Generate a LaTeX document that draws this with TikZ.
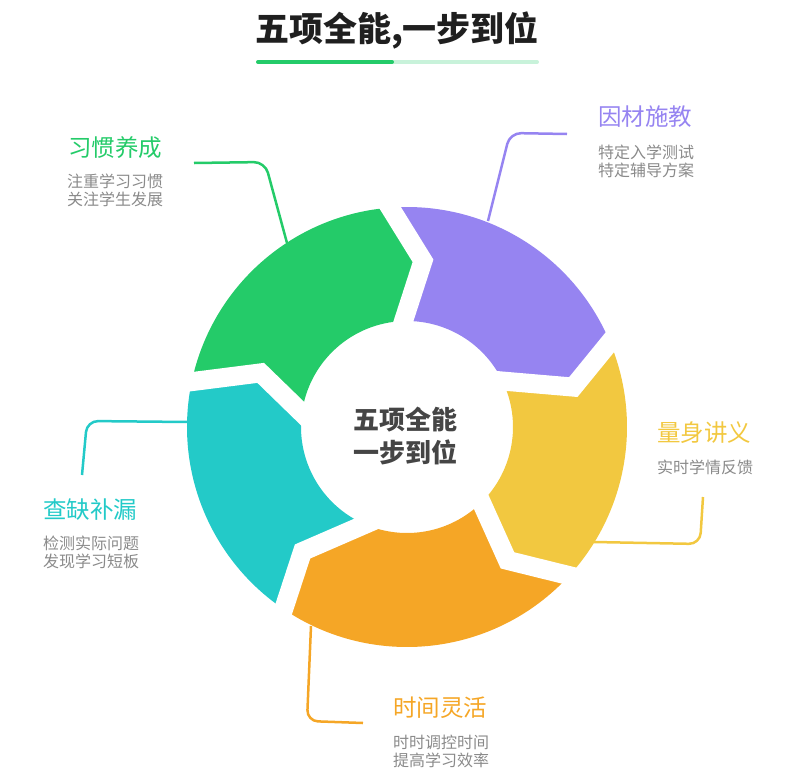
\documentclass[tikz,border=0pt]{standalone}
\usepackage{fontspec}
\setmainfont{Noto Sans CJK SC}
\usetikzlibrary{calc,positioning}
\definecolor{cgreen}{HTML}{24CB69}
\definecolor{cpurple}{HTML}{9684F1}
\definecolor{cyellow}{HTML}{F2C840}
\definecolor{corange}{HTML}{F5A626}
\definecolor{ccyan}{HTML}{23CAC8}
\definecolor{cgray}{HTML}{8A8A8A}
\definecolor{cdark}{HTML}{1F1F1F}
\definecolor{ccore}{HTML}{454545}

\begin{document}
\begin{tikzpicture}[x=1pt, y=-1pt,
    ttl/.style={anchor=west, inner sep=0pt, font=\fontsize{23.5}{26}\selectfont},
    sub/.style={anchor=west, inner sep=0pt, align=left, text=cgray,
                font=\fontsize{16}{18}\selectfont},
    lead/.style={line width=2.5pt, rounded corners=11pt},
    gap/.style={white, line width=19pt, line join=miter}]
\useasboundingbox (0,0) rectangle (801,774);

% title + bar
\node[inner sep=0pt, text=cdark, font=\fontsize{34}{40}\selectfont\bfseries] (head) at (397,30) {五项全能,一步到位};
\coordinate (barL) at (258,62);
\coordinate (barM) at (392,62);
\coordinate (barR) at (537,62);
\draw[line width=4pt, line cap=round, cgreen!25] (barM) -- (barR);
\draw[line width=4pt, line cap=round, cgreen] (barL) -- (barM);

% labels
\node[ttl, text=cgreen]  (habit) at (68,148)   {习惯养成};
\node[sub] (habitsub) at (67,190)   {注重学习习惯\\关注学生发展};
\node[ttl, text=cpurple] (teach) at (598,117)  {因材施教};
\node[sub] (teachsub) at (598,161.5) {特定入学测试\\特定辅导方案};
\node[ttl, text=cyellow] (notes) at (657,432.5) {量身讲义};
\node[sub] (notessub) at (657,467)  {实时学情反馈};
\node[ttl, text=ccyan]   (check) at (43,509.5) {查缺补漏};
\node[sub] (checksub) at (43,552.5) {检测实际问题\\发现学习短板};
\node[ttl, text=corange] (time)  at (393,708)  {时间灵活};
\node[sub] (timesub)  at (393,751.5) {时时调控时间\\提高学习效率};

% leader lines
\coordinate (habitA) at (194,163); \coordinate (habitB) at (265,162); \coordinate (habitC) at (287,243);
\coordinate (teachA) at (567,134); \coordinate (teachB) at (510,133); \coordinate (teachC) at (488,221);
\coordinate (notesA) at (703,497); \coordinate (notesB) at (700,544); \coordinate (notesC) at (594,542);
\coordinate (timeA)  at (311,626); \coordinate (timeB)  at (307,721); \coordinate (timeC)  at (363,723);
\coordinate (checkA) at (82,475);  \coordinate (checkB) at (87,421);  \coordinate (checkC) at (188,422);
\draw[lead, cgreen]  (habitA) -- (habitB) -- (habitC);
\draw[lead, cpurple] (teachA) -- (teachB) -- (teachC);
\draw[lead, cyellow] (notesA) -- (notesB) -- (notesC);
\draw[lead, corange] (timeA)  -- (timeB)  -- (timeC);
\draw[lead, ccyan]   (checkA) -- (checkB) -- (checkC);

% ring
\begin{scope}[shift={(407,427)}]
\foreach \n/\o/\m/\r/\i in {1/94.4/84.5/167/91.9, 2/22.7/13.5/171/25.7,
    3/-42.5/-53/167/-45.4, 4/-124.1/-130/162.5/-113.3, 5/168.1/159.7/156/172.4} {
  \coordinate (j\n o) at (\o:220pt);
  \coordinate (j\n m) at (\m:\r pt);
  \coordinate (j\n i) at (\i:106pt);
}
\foreach \col/\a/\ai/\b/\bi/\p/\q in {cgreen/168.1/172.4/94.4/91.9/5/1,
    cpurple/94.4/91.9/22.7/25.7/1/2, cyellow/22.7/25.7/-42.5/-45.4/2/3,
    corange/-42.5/-45.4/-124.1/-113.3/3/4, ccyan/235.9/246.7/168.1/172.4/4/5}
  \fill[\col] (j\p o) arc[start angle=\a, end angle=\b, radius=220pt]
    -- (j\q m) -- (j\q i) arc[start angle=\bi, end angle=\ai, radius=106pt]
    -- (j\p m) -- cycle;
\foreach \n in {1,...,5}
  \draw[gap] ($(j\n m)!1.45!(j\n o)$) -- (j\n m) -- ($(j\n m)!1.6!(j\n i)$);
\end{scope}

\node[align=center, inner sep=0pt, text=ccore, font=\fontsize{26}{33}\selectfont\bfseries] (core) at (405,436) {五项全能\\一步到位};
\end{tikzpicture}
\end{document}
